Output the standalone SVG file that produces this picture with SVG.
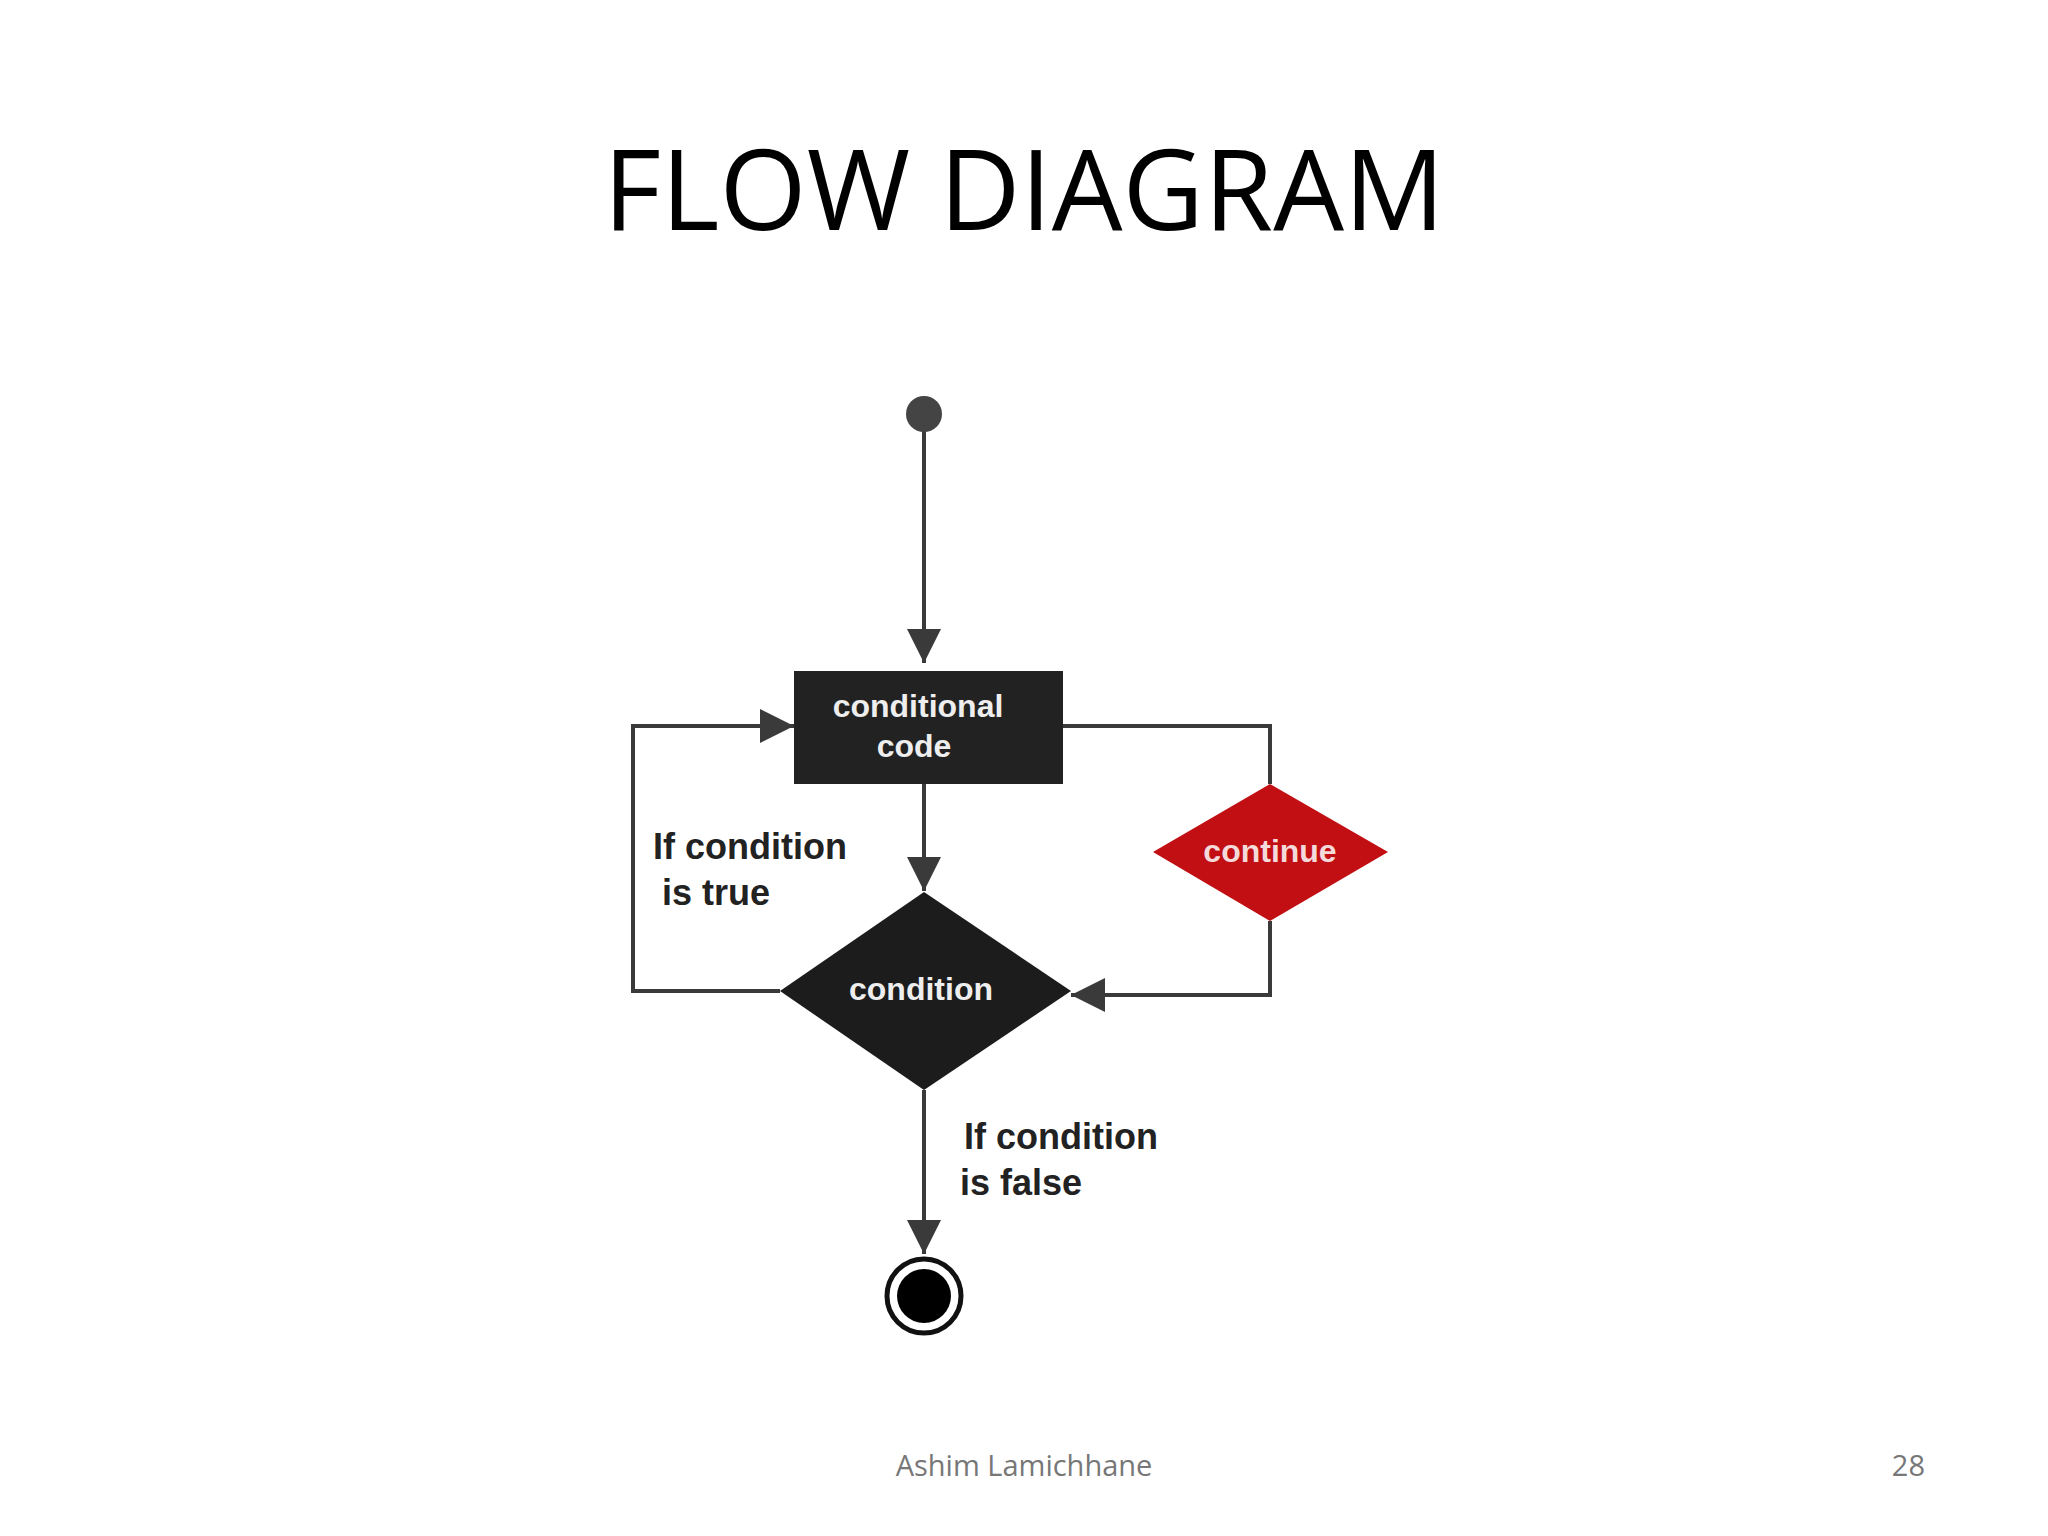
<svg xmlns="http://www.w3.org/2000/svg" width="2048" height="1536" viewBox="0 0 2048 1536">
<style>
.c{fill:none;stroke:#3a3a3a;stroke-width:4}
.lbl{font-family:"Liberation Sans",Arial,sans-serif;font-weight:bold;font-size:36px;fill:#222}
.w{font-family:"Liberation Sans",Arial,sans-serif;font-weight:bold;font-size:32px;fill:#eee;text-anchor:middle}
</style>
<defs>
<marker id="b" viewBox="0 0 10 10" refX="10" refY="5" markerWidth="36" markerHeight="34" markerUnits="userSpaceOnUse" orient="auto"><path d="M0,0L10,5L0,10z" fill="#3a3a3a"/></marker></defs>
<rect width="2048" height="1536" fill="#fff"/>
<text x="1024" y="230" font-family="Open Sans,Liberation Sans,sans-serif" font-size="112" text-anchor="middle" fill="#000">FLOW DIAGRAM</text>
<g id="connectors">
<path class="c" d="M924,430V663" marker-end="url(#b)"/>
<path class="c" d="M924,784V891" marker-end="url(#b)"/>
<path class="c" d="M780,991H633V726H794" marker-end="url(#b)"/>
<path class="c" d="M1063,726H1270V784"/>
<path class="c" d="M1270,921V995H1071" marker-end="url(#b)"/>
<path class="c" d="M924,1090V1254" marker-end="url(#b)"/>
</g>
<g id="start"><circle cx="924" cy="414" r="18" fill="#444"/></g>
<g id="code"><rect x="794" y="671" width="269" height="113" fill="#222"/>
<text class="w" x="918" y="717">conditional</text><text class="w" x="914" y="757">code</text></g>
<g id="condition"><path d="M924,892L1071,991L924,1090L780,991z" fill="#1c1c1c"/>
<text class="w" x="921" y="1000">condition</text></g>
<g id="continue"><path d="M1270,784L1388,852L1270,921L1153,852z" fill="#c10f14"/>
<text class="w" x="1270" y="862" style="fill:#f4dada">continue</text></g>
<g id="end"><circle cx="924" cy="1296" r="37" fill="#fff" stroke="#111" stroke-width="5"/><circle cx="924" cy="1296" r="27" fill="#000"/></g>
<text class="lbl" x="653" y="859">If condition</text>
<text class="lbl" x="662" y="905">is true</text>
<text class="lbl" x="964" y="1149">If condition</text>
<text class="lbl" x="960" y="1195">is false</text>
<text x="1024" y="1476" font-family="Open Sans,Liberation Sans,sans-serif" font-size="29" text-anchor="middle" fill="#777">Ashim Lamichhane</text>
<text x="1925" y="1476" font-family="Open Sans,Liberation Sans,sans-serif" font-size="29" text-anchor="end" fill="#777">28</text>
</svg>
